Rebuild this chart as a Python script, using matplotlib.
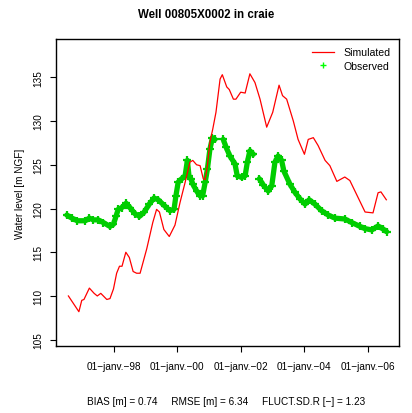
import numpy as np
import pandas as pd
import matplotlib
matplotlib.use("Agg")
import matplotlib.pyplot as plt
import matplotlib.dates as mdates
from datetime import datetime, timedelta

plt.rcParams['font.family'] = ['Liberation Sans', 'DejaVu Sans']

# ---- data (decimal years, water level m NGF) ----
sim_years = [1996.57, 1996.90, 1996.99, 1997.06, 1997.23, 1997.38, 1997.48, 1997.59,
             1997.78, 1997.88, 1997.99, 1998.09, 1998.18, 1998.26, 1998.38, 1998.49,
             1998.61, 1998.72, 1998.83, 1999.04, 1999.23, 1999.35, 1999.44, 1999.58,
             1999.75, 1999.93, 2000.09, 2000.25, 2000.40, 2000.49, 2000.61, 2000.72,
             2000.82, 2000.88, 2000.95, 2001.03, 2001.12, 2001.22, 2001.35, 2001.42,
             2001.56, 2001.64, 2001.77, 2001.85, 2002.00, 2002.14, 2002.29, 2002.45,
             2002.61, 2002.82, 2003.01, 2003.21, 2003.32, 2003.45, 2003.66, 2003.81,
             2004.01, 2004.13, 2004.29, 2004.44, 2004.66, 2004.81, 2005.03, 2005.28,
             2005.44, 2005.92, 2006.17, 2006.33, 2006.42, 2006.59]
sim_values = [110.0, 108.2, 109.5, 109.6, 110.9, 110.3, 110.0, 110.3,
              109.6, 109.7, 110.8, 112.6, 113.4, 113.4, 115.0, 114.4,
              112.8, 112.6, 112.6, 115.4, 118.4, 119.9, 119.6, 117.6,
              116.8, 118.1, 120.7, 123.0, 125.3, 125.5, 125.0, 124.9,
              123.4, 123.3, 124.9, 127.6, 129.1, 131.0, 134.8, 135.3,
              133.9, 133.6, 132.5, 132.5, 133.3, 133.2, 135.4, 134.4,
              132.5, 129.3, 131.0, 134.1, 132.9, 132.5, 130.0, 127.9,
              126.2, 127.9, 128.1, 127.2, 125.5, 124.9, 123.1, 123.6,
              123.2, 119.6, 119.5, 121.8, 121.9, 121.0]

obs_years = [1996.52, 1996.68, 1996.85, 1997.10, 1997.23, 1997.36, 1997.51, 1997.67,
             1997.88, 1997.99, 1998.07, 1998.14, 1998.25, 1998.39, 1998.51, 1998.67,
             1998.81, 1998.95, 1999.12, 1999.27, 1999.40, 1999.62, 1999.77, 1999.90,
             1999.96, 2000.03, 2000.14, 2000.25, 2000.32, 2000.37, 2000.43, 2000.49,
             2000.61, 2000.72, 2000.80, 2000.88, 2000.95, 2001.03, 2001.11, 2001.19,
             2001.30,
             2001.45, 2001.54, 2001.66, 2001.82, 2001.89, 2002.03, 2002.14, 2002.21,
             2002.29, 2002.40,
             2002.50,
             2002.59, 2002.71, 2002.87, 2002.98, 2003.08, 2003.18, 2003.29, 2003.36,
             2003.55, 2003.71, 2003.87, 2004.03, 2004.16, 2004.34, 2004.55, 2004.76,
             2004.97, 2005.28, 2005.50, 2005.76, 2005.92, 2006.13, 2006.33, 2006.49,
             2006.60]
obs_values = [119.25, 118.9, 118.6, 118.6, 118.9, 118.7, 118.7, 118.4,
              117.95, 118.2, 119.1, 119.9, 120.1, 120.6, 120.1, 119.4,
              119.1, 119.55, 120.5, 121.2, 121.0, 120.25, 119.75, 119.9,
              121.45, 123.0, 123.4, 123.75, 125.5, 123.75, 123.4, 122.8,
              122.0, 121.45, 121.45, 123.0, 124.5, 126.8, 128.1, 127.9,
              np.nan,
              127.9, 127.0, 126.0, 125.1, 123.75, 123.55, 123.75, 125.3,
              126.6, 126.2,
              np.nan,
              123.4, 122.7, 122.0, 122.6, 125.3, 126.0, 125.5, 124.3,
              122.8, 121.85, 121.1, 120.5, 121.0, 120.5, 119.75, 119.25,
              118.9, 118.8, 118.4, 117.95, 117.7, 117.55, 118.0, 117.65,
              117.35]

tick_dates = ["1998-01-01", "2000-01-01", "2002-01-01", "2004-01-01", "2006-01-01"]
tick_labels = ["01\u2212janv.\u221298", "01\u2212janv.\u221200", "01\u2212janv.\u221202",
               "01\u2212janv.\u221204", "01\u2212janv.\u221206"]
y_ticks = [105, 110, 115, 120, 125, 130, 135]

title = "Well 00805X0002 in craie"
ylabel = "Water level [m NGF]"
stats_text = "BIAS [m] = 0.74     RMSE [m] = 6.34     FLUCT.SD.R [\u2212] = 1.23"


def dec2date(y):
    yi = int(np.floor(y))
    start = datetime(yi, 1, 1)
    end = datetime(yi + 1, 1, 1)
    return start + timedelta(seconds=(y - yi) * (end - start).total_seconds())


sim_dates = [dec2date(y) for y in sim_years]
obs_dates = [dec2date(y) for y in obs_years]

fig = plt.figure(figsize=(4.12, 4.14), dpi=100)
ax = fig.add_axes([56 / 412, 1 - 347 / 414, (399 - 56) / 412, (347 - 40) / 414])

green = "#00CD00"
ax.plot(obs_dates, obs_values, color=green, lw=3.8, solid_capstyle='round', zorder=2)
ax.plot(obs_dates, obs_values, linestyle='none', marker='+', ms=6, mew=1.6,
        color=green, zorder=3, label="Observed")
ax.plot(sim_dates, sim_values, color="#FF0000", lw=0.9, zorder=4, label="Simulated")

ax.set_xlim(dec2date(1996.18), dec2date(2006.99))
ax.set_ylim(104.28, 139.38)

ax.xaxis.set_major_locator(matplotlib.ticker.FixedLocator(
    [mdates.date2num(pd.Timestamp(d)) for d in tick_dates]))
ax.set_xticklabels(tick_labels)
ax.set_yticks(y_ticks)
ax.set_yticklabels([str(v) for v in y_ticks], rotation=90, va='center')

ax.tick_params(axis='both', direction='out', length=4.3, width=0.8, labelsize=7.2,
               colors='black')
ax.tick_params(axis='x', pad=6.5)
ax.tick_params(axis='y', pad=5.0)
for s in ax.spines.values():
    s.set_linewidth(1.0)
    s.set_color('black')

ax.set_ylabel(ylabel, fontsize=7.2, labelpad=6)
fig.text(0.5, 1 - 15.5 / 414, title, ha='center', va='center', fontsize=8.3,
         fontweight='bold')
fig.text((89 + 364) / 2 / 412, 1 - 401.7 / 414, stats_text, ha='center', va='center',
         fontsize=7.2)

h, l = ax.get_legend_handles_labels()
order = [l.index("Simulated"), l.index("Observed")]
leg = ax.legend([h[i] for i in order], [l[i] for i in order], loc='upper right',
                frameon=False, fontsize=7.6, handlelength=2.1, borderaxespad=0.4,
                handletextpad=0.9, labelspacing=0.35)
leg.legend_handles[1].set_markersize(5)
leg.legend_handles[1].set_markeredgewidth(1.0)
leg.legend_handles[1].set_color("#00FF00")

fig.savefig("out.png", dpi=100)
